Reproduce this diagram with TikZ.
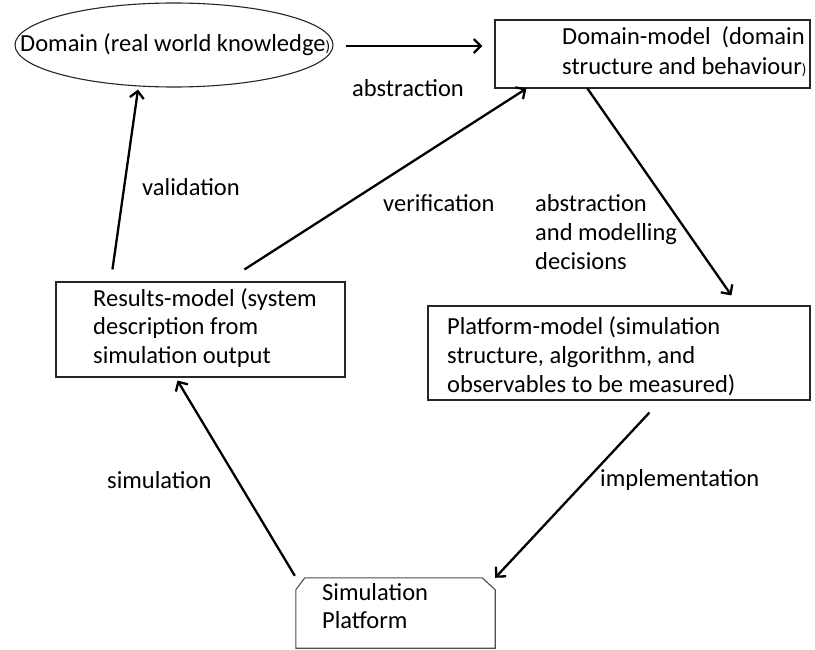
\documentclass[tikz,border=0pt]{standalone}
\usepackage{fontspec}
\setmainfont{Carlito}
\usetikzlibrary{arrows.meta,calc,shapes.geometric}
\begin{document}
\begin{tikzpicture}[x=1pt,y=-1pt,
  box/.style={draw=black!85, line width=1.1pt, inner sep=0pt},
  lbl/.style={inner sep=0pt, anchor=west, align=left, font=\fontsize{24.5}{28.5}\selectfont},
  arr/.style={line width=2.3pt, -{Straight Barb[length=7pt,width=14pt]}}]
\useasboundingbox (0,0) rectangle (815,650);

% shapes
\node[box, ellipse, minimum width=318pt, minimum height=84pt] (dom) at (174,45) {};
\node[box, minimum width=315pt, minimum height=68pt] (dmod) at (652.5,54) {};
\node[box, minimum width=289pt, minimum height=95pt] (res) at (200.5,329.5) {};
\node[box, minimum width=382pt, minimum height=94pt] (plat) at (619,353) {};
\node[inner sep=0pt, minimum width=199pt, minimum height=70pt] (sim) at (395.5,613) {};
\draw[draw=black!70, line width=1.1pt]
  (sim.south west) -- ($(sim.north west)+(0,12)$) -- ($(sim.north west)+(9,0)$)
  -- ($(sim.north east)+(-13,0)$) -- ($(sim.north east)+(0,12)$) -- (sim.south east) -- cycle;

% texts
\node[lbl] (domtxt) at (20,45) {Domain (real world knowledge{\fontsize{15}{15}\selectfont)}};
\node[lbl, font=\fontsize{24.5}{30}\selectfont] (dmodtxt) at (562,52) {Domain-model\ \ (domain\\structure and behaviour{\fontsize{15}{15}\selectfont)}};
\node[lbl] (restxt) at (93,328) {Results-model (system\\description from\\simulation output};
\node[lbl, font=\fontsize{24.5}{29}\selectfont] (plattxt) at (447,356) {Platform-model (simulation\\structure, algorithm, and\\observables to be measured)};
\node[lbl] (simtxt) at (322,606) {Simulation\\Platform};

% edge labels
\node[lbl, anchor=center] (labs) at (408,88) {abstraction};
\node[lbl] (lval) at (142,187) {validation};
\node[lbl] (lver) at (383,203) {verification};
\node[lbl, font=\fontsize{24.5}{29}\selectfont] (lmod) at (535,232) {abstraction\\and modelling\\decisions};
\node[lbl] (limp) at (600,480) {implementation};
\node[lbl] (lsim) at (107,480) {simulation};

% connectors
\draw[arr] ($(dom.east)+(12,1)$) -- ($(dmod.west)+(-12,-8)$);
\draw[arr] ($(res.north west)+(57,-12)$) -- ($(dom.south)+(-36,2)$);
\draw[arr] ($(res.north west)+(189,-12)$) -- ($(dmod.south west)+(32,0)$);
\draw[arr] ($(dmod.south west)+(93,0)$) -- ($(plat.north west)+(304,-10)$);
\draw[arr] ($(plat.south west)+(222,12)$) -- (sim.east |- sim.north);
\draw[arr] ($(sim.north west)+(-1,-2)$) -- ($(res.south west)+(122,3)$);
\end{tikzpicture}
\end{document}
